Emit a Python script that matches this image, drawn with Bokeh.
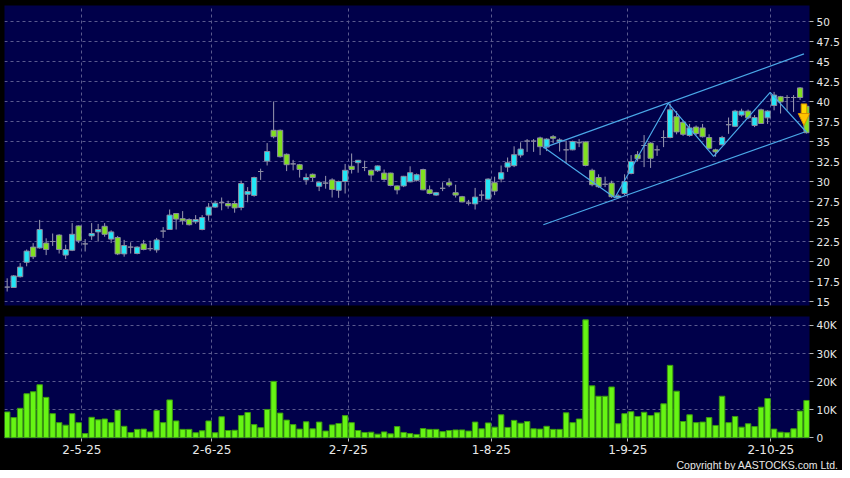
from bokeh.plotting import figure
from bokeh.layouts import column
from bokeh.models import FixedTicker, ColumnDataSource, Range1d, Title
from bokeh.embed import file_html
from bokeh.resources import INLINE

# ---------------- data ----------------
opens = [16.8, 16.75, 18.1, 19.9, 21.8, 21.7, 22.3, 22.5, 23.3, 20.8,
         21.4, 24.45, 22.2, 23.2, 23.7, 24.4, 22.8, 23.0, 20.95, 21.8,
         21.0, 22.2, 21.6, 21.45, 23.8, 24.0, 26.0, 25.35, 25.25, 24.96,
         24.0, 25.8, 26.8, 27.35, 27.25, 27.25, 26.75, 28.4, 28.25, 31.25,
         32.55, 36.4, 36.4, 33.4, 32.2, 32.1, 30.2, 30.9, 29.4, 29.8,
         30.2, 28.9, 30.0, 31.9, 32.35, 31.75, 31.4, 31.35, 31.05, 31.05,
         29.45, 29.45, 29.96, 30.15, 31.5, 28.96, 28.3, 29.15, 29.85, 28.6,
         28.1, 27.3, 27.2, 28.3, 27.8, 29.85, 30.3, 31.8, 31.98, 33.3,
         35.05, 35.05, 35.45, 34.3, 35.6, 35.0, 33.96, 33.96, 34.85, 34.95,
         31.4, 30.5, 29.65, 29.8, 28.0, 28.5, 31.0, 33.35, 34.5, 34.8,
         33.96, 35.5, 35.5, 38.1, 37.4, 35.75, 36.8, 36.7, 35.5, 33.96,
         34.6, 37.1, 36.9, 38.3, 38.8, 37.0, 38.96, 37.96, 39.5, 40.6,
         40.5, 40.5, 41.7, 39.4]
highs = [17.9, 18.3, 19.8, 21.5, 22.3, 25.2, 22.9, 23.5, 23.4, 22.1,
         24.8, 24.5, 22.8, 24.8, 24.7, 24.8, 23.9, 23.2, 22.7, 22.4,
         21.9, 22.7, 22.6, 22.95, 24.3, 26.5, 26.0, 26.3, 25.4, 25.8,
         25.8, 27.3, 27.6, 28.0, 27.6, 27.6, 30.1, 29.3, 30.6, 31.6,
         34.8, 40.0, 36.5, 33.5, 32.7, 32.2, 31.0, 31.0, 30.0, 30.7,
         30.4, 30.1, 32.2, 33.5, 32.7, 32.6, 31.5, 32.0, 31.5, 31.1,
         29.5, 30.7, 31.9, 31.0, 31.6, 29.5, 28.7, 29.9, 30.4, 29.6,
         28.2, 27.7, 29.2, 28.9, 30.4, 30.6, 32.0, 33.0, 34.4, 34.9,
         35.3, 35.3, 35.6, 35.4, 35.8, 35.4, 35.1, 35.1, 35.3, 35.0,
         31.6, 30.9, 30.6, 30.1, 28.4, 30.9, 33.3, 33.8, 35.8, 34.9,
         34.5, 36.4, 39.75, 38.8, 37.6, 37.2, 37.0, 37.2, 35.9, 34.1,
         35.7, 38.0, 38.96, 39.1, 39.0, 38.3, 39.1, 38.9, 41.2, 40.7,
         40.8, 40.8, 41.8, 39.5]
lows = [16.25, 16.7, 18.0, 19.4, 20.3, 21.6, 20.8, 21.95, 21.0, 20.3,
        21.3, 22.3, 21.25, 22.7, 22.5, 23.1, 22.3, 20.8, 20.6, 21.0,
        20.9, 21.4, 21.3, 21.1, 22.95, 24.0, 24.0, 24.6, 24.5, 24.7,
        23.9, 25.1, 26.7, 26.4, 26.6, 26.1, 26.4, 27.4, 28.1, 30.2,
        32.0, 35.4, 33.0, 31.3, 31.4, 30.5, 29.6, 30.0, 28.8, 29.1,
        28.0, 27.96, 28.5, 31.0, 31.1, 31.3, 30.05, 31.2, 30.1, 29.4,
        28.4, 29.3, 29.9, 30.0, 28.9, 28.4, 28.2, 28.8, 29.3, 28.0,
        27.4, 27.0, 26.5, 27.6, 27.7, 28.3, 29.9, 31.2, 31.8, 33.0,
        33.7, 33.7, 33.3, 33.8, 34.8, 33.75, 32.3, 33.9, 34.3, 31.9,
        29.4, 29.2, 29.3, 27.96, 27.9, 28.3, 30.9, 32.5, 31.8, 31.7,
        33.2, 34.3, 35.4, 35.9, 35.7, 35.6, 35.8, 35.5, 34.0, 33.1,
        34.5, 35.96, 36.8, 38.1, 37.8, 36.8, 37.2, 37.2, 38.9, 38.5,
        38.9, 38.7, 40.2, 36.0]
closes = [16.8, 18.2, 19.3, 21.3, 20.6, 24.0, 21.5, 22.5, 21.5, 21.5,
          23.4, 22.6, 22.2, 23.5, 24.0, 23.4, 23.7, 20.95, 22.0, 21.8,
          21.8, 21.5, 21.6, 22.7, 23.8, 25.8, 25.3, 25.1, 24.6, 25.25,
          25.5, 26.8, 27.3, 27.35, 26.95, 26.7, 29.75, 28.75, 30.5, 31.25,
          33.75, 35.6, 33.1, 32.1, 32.2, 31.5, 30.5, 30.5, 29.9, 29.8,
          29.0, 30.0, 31.4, 31.5, 32.65, 31.75, 30.8, 31.95, 30.25, 29.5,
          28.95, 30.65, 31.1, 30.85, 28.96, 28.5, 28.6, 29.15, 29.55, 28.3,
          27.45, 27.3, 28.05, 28.3, 30.3, 28.8, 31.1, 32.35, 33.35, 34.05,
          35.05, 35.05, 34.35, 35.3, 35.4, 35.2, 33.96, 35.0, 34.85, 32.0,
          29.6, 29.35, 29.65, 28.1, 28.2, 30.0, 32.5, 32.85, 34.5, 32.9,
          33.96, 35.5, 38.96, 36.2, 35.9, 36.7, 36.0, 35.6, 34.15, 33.7,
          35.5, 37.1, 38.8, 38.8, 37.96, 38.0, 37.25, 38.8, 40.8, 39.95,
          40.5, 40.5, 40.5, 36.1]
volumes_k = [9.2, 7.2, 10.5, 15.7, 16.4, 18.9, 14.4, 8.6, 5.4, 4.5,
             8.6, 5.4, 1.5, 7.3, 6.4, 6.7, 5.4, 9.8, 4.1, 1.9,
             3.0, 3.1, 2.1, 9.7, 5.4, 13.5, 6.0, 3.0, 3.0, 1.8,
             2.5, 6.0, 1.8, 7.5, 2.6, 2.7, 7.9, 9.0, 4.7, 3.6,
             10.1, 20.1, 8.8, 6.3, 4.7, 3.1, 5.7, 3.2, 5.6, 2.4,
             4.6, 5.1, 7.9, 5.4, 2.6, 1.9, 2.0, 1.3, 2.1, 1.4,
             4.0, 1.9, 1.5, 1.2, 3.3, 3.0, 3.0, 2.2, 2.6, 2.8,
             2.8, 2.4, 5.6, 3.2, 5.3, 3.8, 8.2, 3.7, 6.2, 5.2,
             5.8, 3.2, 3.1, 4.1, 3.0, 3.0, 8.9, 5.4, 6.7, 42.0,
             18.5, 14.8, 14.8, 18.1, 5.0, 8.6, 9.3, 7.6, 9.1, 7.9,
             8.9, 12.1, 25.8, 16.6, 5.8, 8.2, 5.4, 5.6, 7.2, 4.4,
             14.8, 5.4, 7.6, 3.8, 5.0, 4.0, 10.9, 14.0, 3.1, 2.0,
             1.8, 3.2, 9.5, 13.3]

date_ticks = [11.5, 31.5, 52.5, 74.5, 95.5, 117.5]
date_labels = ["2-5-25", "2-6-25", "2-7-25", "1-8-25", "1-9-25", "2-10-25"]
price_ticks = [15, 17.5, 20, 22.5, 25, 27.5, 30, 32.5, 35, 37.5, 40, 42.5, 45, 47.5, 50]
price_labels = ["15", "17.5", "20", "22.5", "25", "27.5", "30", "32.5", "35",
                "37.5", "40", "42.5", "45", "47.5", "50"]
vol_ticks = [0, 10, 20, 30, 40]
vol_labels = ["0", "10K", "20K", "30K", "40K"]
copyright_text = "Copyright by AASTOCKS.com Ltd."

# trend lines (bar index, price)
zigzag_x = [82.5, 93.5, 101.7, 108.7, 117.4, 123.0]
zigzag_y = [34.3, 27.96, 39.79, 33.13, 41.13, 36.16]
chan_up_x = [82.5, 122.6]
chan_up_y = [34.2, 45.95]
chan_lo_x = [82.5, 122.6]
chan_lo_y = [24.6, 36.16]
arrow_x = 122.6
arrow_top, arrow_neck, arrow_tip = 39.7, 38.5, 37.0

# ---------------- styling ----------------
BG = "#00004a"
GRID = "#5a5a8e"
CYAN = "#22e6f6"
GREEN = "#80e020"
DOJI = "#a0a0b4"
EDGE = "#8a8aa0"
WICK = "#9a9ab0"
TXT = "#e8e8e8"
LINE = "#4aa8e8"
VOL = "#66f514"
VOL_EDGE = "#3c9a10"
FONT = "DejaVu Sans"

n = len(opens)
idx = list(range(n))
body_top = [max(o, c) for o, c in zip(opens, closes)]
body_bot = [min(o, c) for o, c in zip(opens, closes)]
body_col = [CYAN if c > o else (GREEN if c < o else DOJI) for o, c in zip(opens, closes)]
src = ColumnDataSource(dict(x=idx, o=opens, h=highs, l=lows, c=closes,
                            top=body_top, bot=body_bot, col=body_col, v=volumes_k))

xr = Range1d(-0.41, 123.45)


def style(p):
    p.background_fill_color = BG
    p.border_fill_color = "black"
    p.outline_line_color = None
    p.min_border_left = 4
    p.min_border_right = 31
    for g in p.grid:
        g.grid_line_color = GRID
        g.grid_line_dash = "3 3"
        g.grid_line_width = 1
    p.xgrid.ticker = FixedTicker(ticks=date_ticks)
    ax = p.yaxis[0]
    ax.axis_line_color = None
    ax.major_tick_line_color = "#b8b8b8"
    ax.major_tick_out = 4
    ax.major_tick_in = 0
    ax.minor_tick_line_color = None
    ax.major_label_text_color = TXT
    ax.major_label_text_font = FONT
    ax.major_label_text_font_size = "10.5px"
    ax.major_label_standoff = 3


# ---------------- price panel ----------------
p = figure(width=842, height=310, x_range=xr, y_range=Range1d(14.5, 52.0),
           output_backend="svg", toolbar_location=None,
           x_axis_location=None, y_axis_location="right")
p.min_border_top = 5
p.min_border_bottom = 5
style(p)
p.yaxis.ticker = FixedTicker(ticks=price_ticks)
p.yaxis.major_label_overrides = {t: s for t, s in zip(price_ticks, price_labels)}
p.ygrid.ticker = FixedTicker(ticks=price_ticks)

p.segment(x0="x", y0="l", x1="x", y1="h", source=src, line_color=WICK, line_width=1)
p.vbar(x="x", top="top", bottom="bot", width=0.8, source=src,
       fill_color="col", line_color=EDGE, line_width=1)

p.line(chan_up_x, chan_up_y, line_color=LINE, line_width=1.2)
p.line(chan_lo_x, chan_lo_y, line_color=LINE, line_width=1.2)
p.line(zigzag_x, zigzag_y, line_color=LINE, line_width=1.2)

# down arrow marker
p.vbar(x=[arrow_x], top=[arrow_top], bottom=[arrow_neck], width=0.85,
       fill_color="#ffd800", line_color="#d89000", line_width=1)
p.patch([arrow_x - 0.88, arrow_x + 0.88, arrow_x],
        [arrow_neck, arrow_neck, arrow_tip],
        fill_color="#ffc400", line_color="#d89000", line_width=1)

# ---------------- volume panel ----------------
v = figure(width=842, height=160, x_range=xr, y_range=Range1d(-0.25, 43.2),
           output_backend="svg", toolbar_location=None,
           x_axis_location="below", y_axis_location="right")
v.min_border_top = 6
v.min_border_bottom = 32
style(v)
v.yaxis.ticker = FixedTicker(ticks=vol_ticks)
v.yaxis.major_label_overrides = {t: s for t, s in zip(vol_ticks, vol_labels)}
v.ygrid.ticker = FixedTicker(ticks=vol_ticks)

xa = v.xaxis[0]
xa.ticker = FixedTicker(ticks=date_ticks)
xa.major_label_overrides = {t: s for t, s in zip(date_ticks, date_labels)}
xa.axis_line_color = None
xa.major_tick_line_color = "#b8b8b8"
xa.major_tick_out = 3
xa.major_tick_in = 0
xa.minor_tick_line_color = None
xa.major_label_text_color = TXT
xa.major_label_text_font = FONT
xa.major_label_text_font_size = "12px"
xa.major_label_standoff = 3

v.vbar(x="x", top="v", bottom=0, width=0.84, source=src,
       fill_color=VOL, line_color=VOL_EDGE, line_width=1)

v.add_layout(Title(text=copyright_text, align="right", offset=-29, standoff=0,
                   text_color=TXT, text_font="Liberation Sans", text_font_size="10.5px",
                   text_font_style="normal"), "below")

layout = column(p, v, spacing=0)
layout.background = "black"
open("out.html", "w").write(file_html(layout, INLINE))
